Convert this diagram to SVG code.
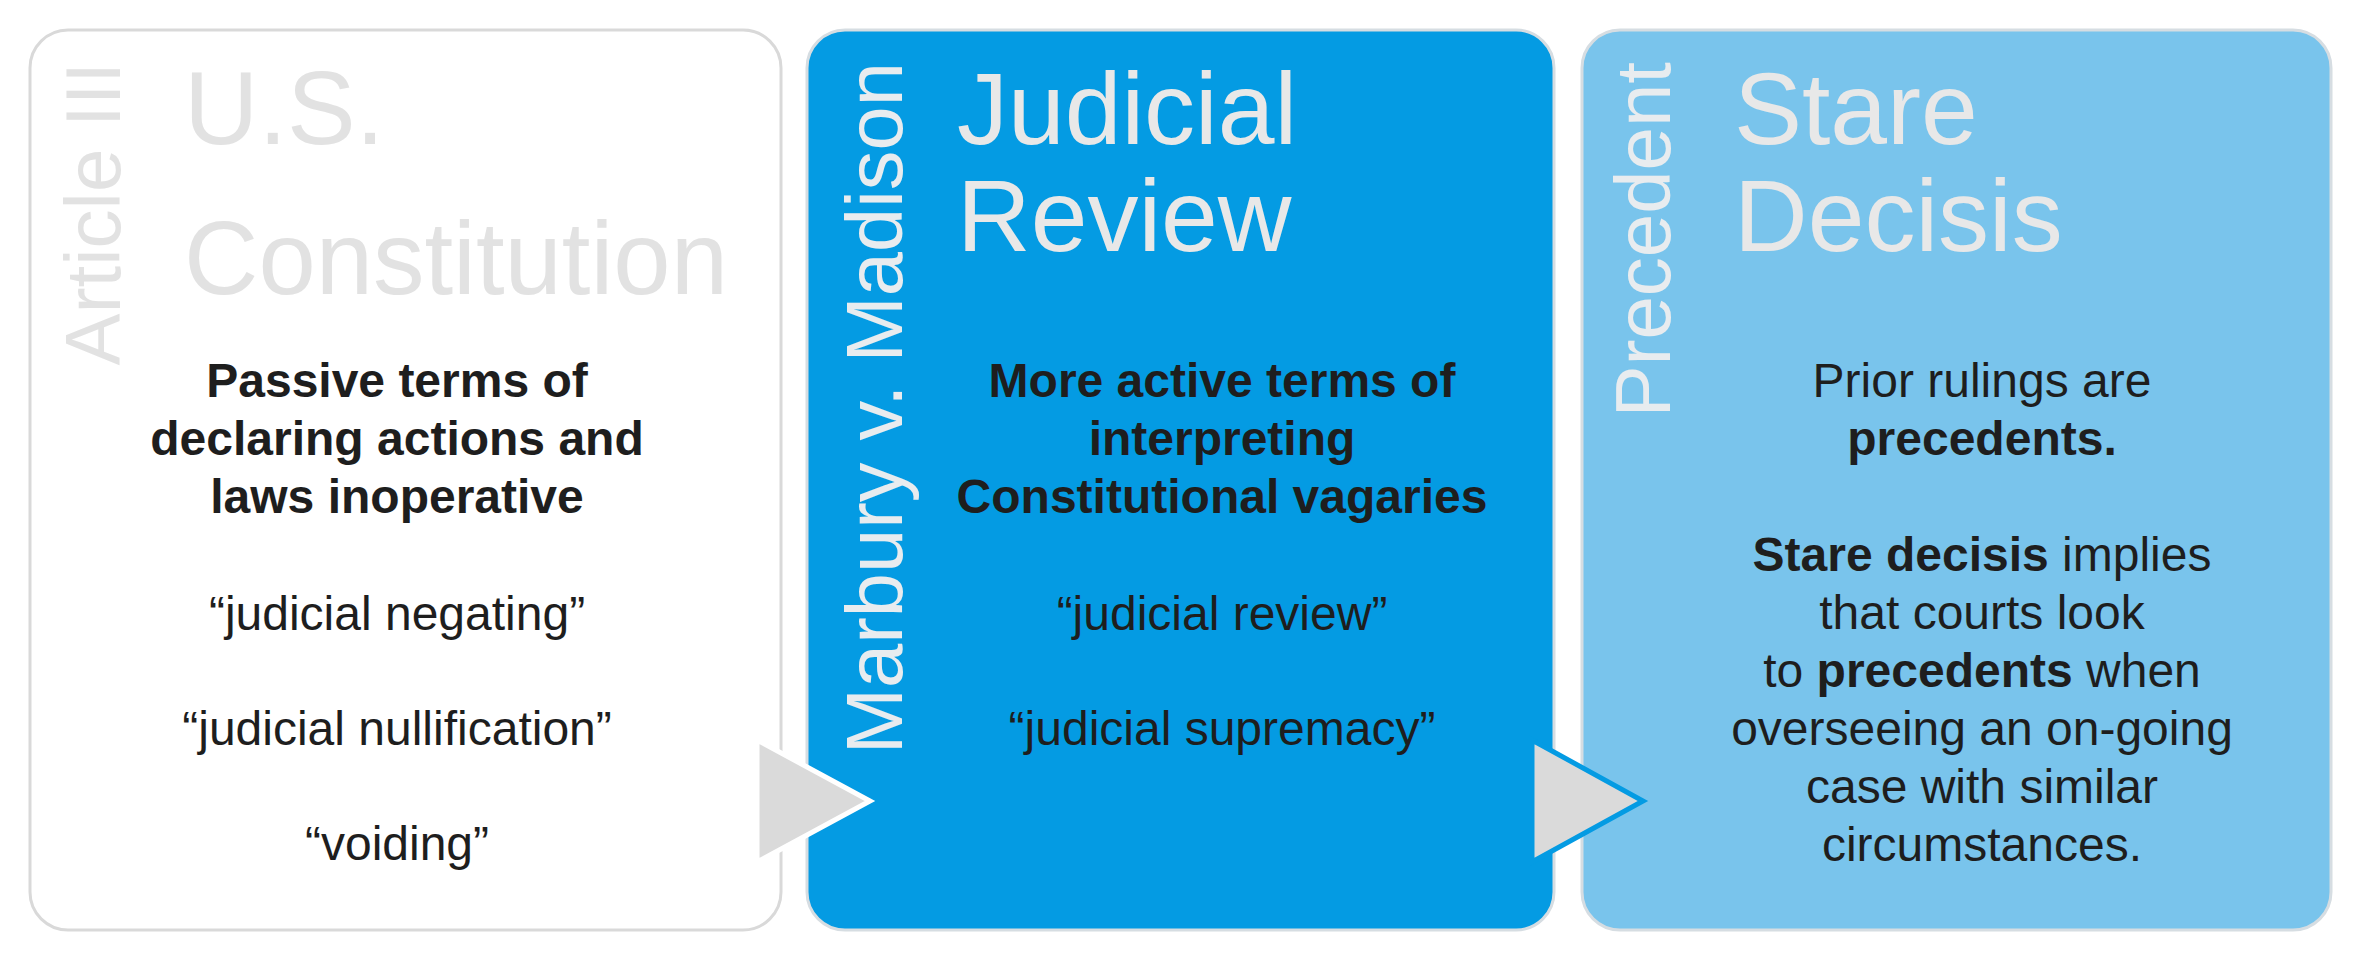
<svg xmlns="http://www.w3.org/2000/svg" width="2360" height="971" viewBox="0 0 2360 971">
<style>
.box{stroke-width:3}
.vlab{font-family:"Liberation Sans",Arial,sans-serif;font-size:78px;text-anchor:end}
.title{font-family:"Liberation Sans",Arial,sans-serif;font-size:102px}
.body{font-family:"Liberation Sans",Arial,sans-serif;font-size:48px;text-anchor:middle;fill:#1e1e1e}
.b{font-weight:bold}
</style>
<rect width="2360" height="971" fill="#ffffff"/>
<g id="node-constitution">
<rect class="box" x="30" y="30" width="751" height="900" rx="38" fill="#ffffff" stroke="#d9d9d9"/>
<text class="vlab" transform="translate(120,62) rotate(-90)" fill="#e2e2e2">Article III</text>
<text class="title" x="184" y="144" fill="#e2e2e2" style="font-size:103px">U.S.</text>
<text class="title" x="184" y="294" fill="#e2e2e2" style="font-size:103px">Constitution</text>
<text class="body b" x="397" y="397">Passive terms of</text>
<text class="body b" x="397" y="455">declaring actions and</text>
<text class="body b" x="397" y="513">laws inoperative</text>
<text class="body" x="397" y="630">“judicial negating”</text>
<text class="body" x="397" y="745">“judicial nullification”</text>
<text class="body" x="397" y="860">“voiding”</text>
</g>
<g id="node-judicial-review">
<rect class="box" x="807" y="30" width="747" height="900" rx="38" fill="#049be3" stroke="#d6dde2"/>
<text class="vlab" transform="translate(902,62) rotate(-90)" fill="#e8ecef" style="font-size:79.5px">Marbury v. Madison</text>
<text class="title" x="957" y="144" fill="#e8e8e8">Judicial</text>
<text class="title" x="957" y="251" fill="#e8e8e8">Review</text>
<text class="body b" x="1222" y="397" fill="#1a1f2a">More active terms of</text>
<text class="body b" x="1222" y="455">interpreting</text>
<text class="body b" x="1222" y="513">Constitutional vagaries</text>
<text class="body" x="1222" y="630">“judicial review”</text>
<text class="body" x="1222" y="745">“judicial supremacy”</text>
</g>
<g id="node-stare-decisis">
<rect class="box" x="1582" y="30" width="749" height="900" rx="38" fill="#79c4ec" stroke="#d6dde2"/>
<text class="vlab" transform="translate(1670,62) rotate(-90)" fill="#e8ecef">Precedent</text>
<text class="title" x="1734" y="144" fill="#e8e8e8">Stare</text>
<text class="title" x="1734" y="251" fill="#e8e8e8">Decisis</text>
<text class="body" x="1982" y="397">Prior rulings are</text>
<text class="body b" x="1982" y="455">precedents.</text>
<text class="body" x="1982" y="571"><tspan class="b">Stare decisis</tspan> implies</text>
<text class="body" x="1982" y="629">that courts look</text>
<text class="body" x="1982" y="687">to <tspan class="b">precedents</tspan> when</text>
<text class="body" x="1982" y="745">overseeing an on-going</text>
<text class="body" x="1982" y="803">case with similar</text>
<text class="body" x="1982" y="861">circumstances.</text>
</g>
<g id="connectors">
<polygon points="757,740 870,801 757,862" fill="#dadada" stroke="#ffffff" stroke-width="5" stroke-linejoin="miter"/>
<polygon points="1532,740 1643,801 1532,862" fill="#dadada" stroke="#049be3" stroke-width="5" stroke-linejoin="miter"/>
</g>
</svg>
